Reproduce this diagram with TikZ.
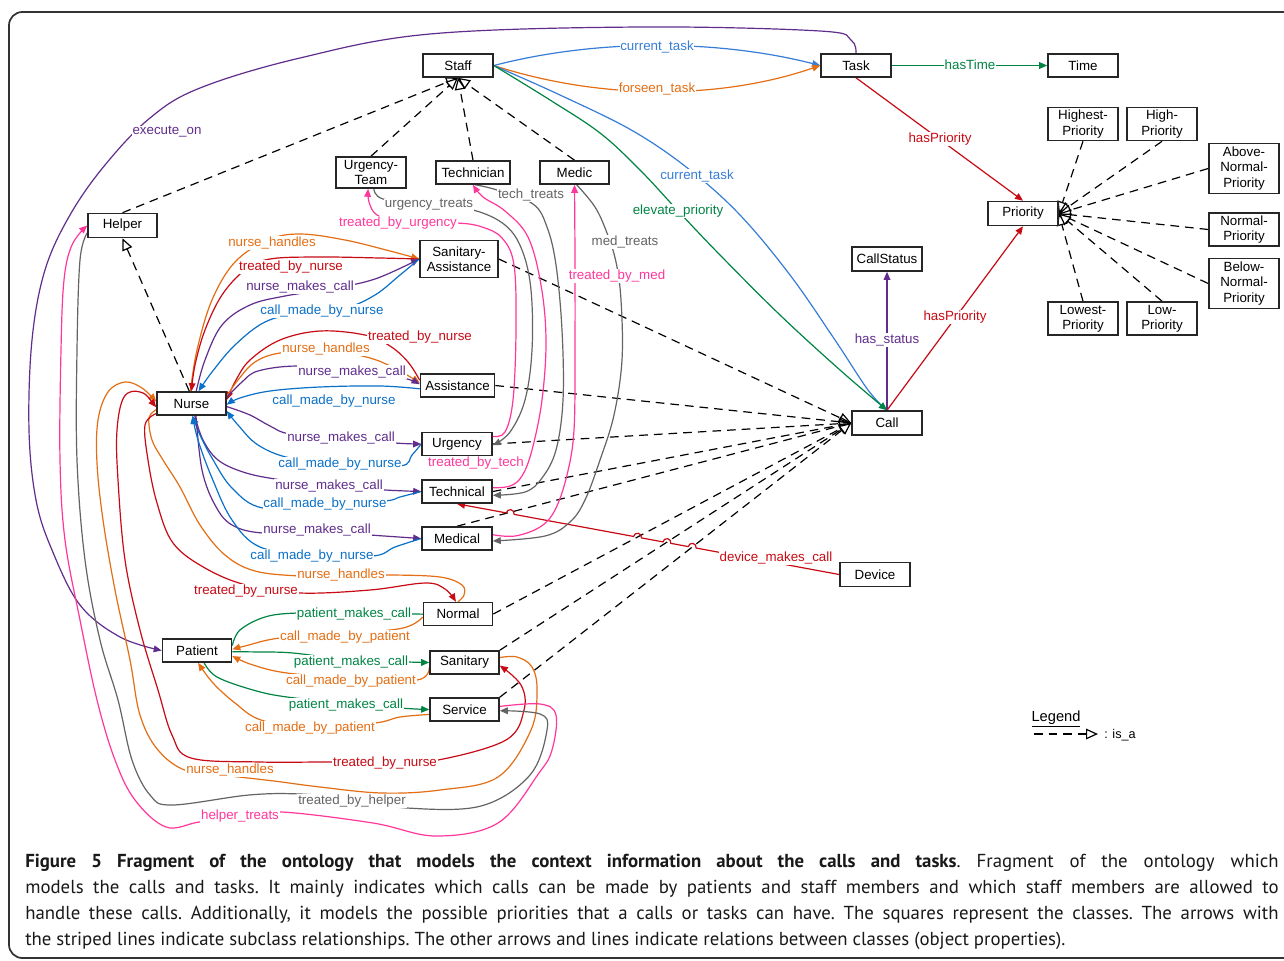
\documentclass[tikz,border=0pt]{standalone}
\usepackage{fontspec}
\setmainfont{Liberation Sans}
\newfontfamily\capfont{PT Sans}
\usetikzlibrary{arrows.meta,calc}
\pgfdeclarelayer{edgelayer}
\pgfsetlayers{edgelayer,main}
\definecolor{cpurple}{RGB}{96,45,140}
\definecolor{cblue}{RGB}{10,112,200}
\definecolor{ctask}{RGB}{55,125,215}
\definecolor{corange}{RGB}{228,110,20}
\definecolor{cred}{RGB}{200,10,20}
\definecolor{cgreen}{RGB}{0,132,68}
\definecolor{cpink}{RGB}{255,55,155}
\definecolor{cgray}{RGB}{100,100,100}
\tikzset{
  cls/.style={draw=black!85, line width=1.2pt, fill=white, inner sep=1pt,
    minimum width=52.5pt, minimum height=17.25pt, align=center,
    font=\fontsize{10}{11.5}\selectfont},
  lbl/.style={fill=white, inner sep=0.6pt, font=\fontsize{10}{12}\selectfont},
  tipf/.tip={Triangle[length=6pt,width=5pt]},
  rel/.style={line width=0.9pt, -tipf},
  relboth/.style={line width=0.9pt, tipf-tipf},
  plain/.style={line width=0.9pt},
  isa/.style={line width=0.9pt, dash pattern=on 6.5pt off 4.5pt,
    -{Triangle[length=9pt,width=8pt,fill=white]}},
  smoothy/.style={smooth, tension=0.6},
}
\begin{document}
\begin{tikzpicture}[x=0.75pt,y=0.75pt]
\useasboundingbox (0,0) rectangle (1284,-960);

% ---------- classes ----------
\node[cls] (staff) at (458,-65.5) {Staff};
\node[cls] (task) at (856,-65.5) {Task};
\node[cls] (time) at (1083,-65.5) {Time};
\node[cls, minimum height=23.25pt] (uteam) at (371,-172.5) {Urgency-\\Team};
\node[cls, minimum width=55.5pt] (technician) at (473,-172.5) {Technician};
\node[cls, minimum width=51.75pt] (medic) at (574.5,-172.5) {Medic};
\node[cls, minimum width=51.75pt, minimum height=18pt] (helper) at (122.5,-225.5) {Helper};
\node[cls, minimum width=58.5pt, minimum height=27.75pt] (sanassist) at (459,-259) {Sanitary-\\Assistance};
\node[cls, minimum width=51.75pt] (nurse) at (191.5,-403.5) {Nurse};
\node[cls, minimum width=55.5pt] (assist) at (457.5,-385.5) {Assistance};
\node[cls] (urgency) at (457,-444) {Urgency};
\node[cls] (technical) at (457,-491.5) {Technical};
\node[cls] (medical) at (457,-538.5) {Medical};
\node[cls, minimum width=51.75pt] (normal) at (458,-614) {Normal};
\node[cls, minimum width=51.75pt] (sanitary) at (464.5,-662.5) {Sanitary};
\node[cls, minimum width=51.75pt] (service) at (464.5,-709.5) {Service};
\node[cls, minimum width=51.75pt] (patient) at (197,-650.5) {Patient};
\node[cls, minimum height=18pt] (device) at (875,-574.5) {Device};
\node[cls, minimum height=18pt] (call) at (887,-423) {Call};
\node[cls, minimum height=18pt] (callstatus) at (887,-259) {CallStatus};
\node[cls, minimum height=18pt] (priority) at (1023,-213.5) {Priority};
\node[cls, minimum height=24.75pt] (highest) at (1083,-124) {Highest-\\Priority};
\node[cls, minimum height=24.75pt] (high) at (1162,-124) {High-\\Priority};
\node[cls, minimum height=37.5pt] (above) at (1244,-168.5) {Above-\\Normal-\\Priority};
\node[cls, minimum height=24.75pt] (normalp) at (1244,-229.5) {Normal-\\Priority};
\node[cls, minimum height=37.5pt] (below) at (1244,-283.5) {Below-\\Normal-\\Priority};
\node[cls, minimum height=24.75pt] (lowest) at (1083,-318.5) {Lowest-\\Priority};
\node[cls, minimum height=24.75pt] (low) at (1162,-318.5) {Low-\\Priority};

\begin{pgfonlayer}{edgelayer}
% page and frame
\fill[white] (0,0) rectangle (1284,-960);
\draw[line width=1.3pt, black!80, rounded corners=10pt] (9,-12) rectangle (1320,-958);

% ---------- subclass links ----------
\foreach \s in {helper.north, uteam.north, technician.north, medic.north}
  \draw[isa] (\s) -- (staff.south);
\draw[isa] (nurse.100) -- (helper.south);
\foreach \s in {highest.south, high.south, above.west, normalp.west, below.west, lowest.north, low.north}
  \draw[isa] (\s) -- (priority.east);
\foreach \s in {sanassist.east, assist.east, urgency.east, technical.east, medical.north, normal.east, sanitary.north east, service.north east}
  \draw[isa] (\s) -- (call.west);

% ---------- staff, task, call, priority ----------
\draw[rel, ctask] (staff.east) .. controls (600,-38) and (720,-40) .. (task.west);
\draw[rel, corange] (staff.east) .. controls (600,-100) and (720,-100) .. (task.west);
\draw[rel, ctask] plot[smoothy] coordinates {(staff.east) (560,-95) (633,-131) (690,-170) (740,-215) (790,-275) (835,-340) (868,-390) (call.north)};
\draw[rel, cgreen] plot[smoothy] coordinates {(staff.east) (550,-100) (600,-133) (640,-170) (680,-213) (720,-255) (780,-315) (840,-370) (call.north)};
\draw[rel, cpurple] (call.north) -- (callstatus.south);
\draw[rel, cred] (call.north) -- (priority.south);
\draw[rel, cred] (task.south) -- (priority.north);
\draw[rel, cgreen] (task.east) -- (time.west);
\draw[rel, cpurple] plot[smoothy] coordinates {(task.north) (851,-40) (820,-31) (640,-27) (430,-34) (300,-58) (200,-88) (150,-118) (105,-165) (70,-215) (45,-270) (32,-340) (29,-430) (36,-500) (52,-550) (80,-605) (120,-637) (patient.west)};

% device link with bridges over the subclass lines
\draw[rel, cred] (device.west)
  -- ($(device.west)!0.3743!(technical.south)$) arc[start angle=-10.6, end angle=169.4, radius=4]
  -- ($(device.west)!0.4406!(technical.south)$) arc[start angle=-10.6, end angle=169.4, radius=4]
  -- ($(device.west)!0.5174!(technical.south)$) arc[start angle=-10.6, end angle=169.4, radius=4]
  -- ($(device.west)!0.8505!(technical.south)$) arc[start angle=-10.6, end angle=169.4, radius=4]
  -- (technical.south);

% ---------- nurse and sanitary assistance ----------
\draw[rel, corange] plot[smoothy] coordinates {(nurse.95) (197,-350) (212,-300) (235,-262) (268,-240) (300,-234) (345,-240) (390,-251) (sanassist.west)};
\draw[rel, cred] plot[smoothy] coordinates {(sanassist.west) (380,-258) (320,-257) (270,-259) (245,-270) (222,-295) (205,-330) (195,-365) (nurse.north)};
\draw[rel, cpurple] plot[smoothy] coordinates {(nurse.69) (205,-360) (222,-325) (250,-305) (285,-296) (330,-289) (375,-279) (sanassist.west)};
\draw[rel, cblue] plot[smoothy] coordinates {(sanassist.west) (400,-275) (375,-295) (345,-308) (300,-313) (265,-322) (235,-345) (212,-372) (nurse.60)};

% ---------- nurse and assistance ----------
\draw[rel, cred] plot[smoothy] coordinates {(assist.172) (408,-362) (390,-346) (365,-335) (320,-331) (280,-340) (250,-360) (236,-380) (nurse.6)};
\draw[rel, corange] plot[smoothy] coordinates {(nurse.12) (238,-380) (255,-362) (280,-353) (326,-350) (370,-358) (398,-370) (assist.176)};
\draw[rel, cpurple] plot[smoothy] coordinates {(nurse.10) (242,-382) (258,-371) (297,-366) (352,-370) (400,-377) (assist.178)};
\draw[rel, cblue] plot[smoothy] coordinates {(assist.185) (380,-386) (320,-387) (270,-391) (240,-398) (nurse.-2)};

% ---------- nurse and urgency, technical, medical ----------
\draw[rel, cpurple] plot[smoothy] coordinates {(nurse.-5) (250,-415) (270,-426) (290,-434) (340,-438) (395,-443) (urgency.west)};
\draw[rel, cblue] plot[smoothy] coordinates {(urgency.west) (412,-455) (400,-466) (340,-463) (290,-458) (258,-445) (238,-425) (nurse.-12)};
\draw[rel, cpurple] plot[smoothy] coordinates {(nurse.-75) (203,-440) (218,-460) (243,-472) (275,-479) (328,-486) (385,-490) (technical.west)};
\draw[rel, cblue] plot[smoothy] coordinates {(technical.west) (400,-497) (385,-501) (325,-505) (263,-508) (232,-488) (212,-458) (200,-435) (nurse.-85)};
\draw[rel, cpurple] plot[smoothy] coordinates {(nurse.-70) (202,-470) (215,-505) (232,-525) (263,-533) (317,-531) (370,-535) (medical.west)};
\draw[rel, cblue] plot[smoothy] coordinates {(medical.west) (395,-547) (373,-556) (312,-555) (260,-547) (232,-520) (212,-478) (198,-440) (nurse.-85)};

% ---------- nurse and normal ----------
\draw[plain, corange] plot[smoothy] coordinates {(nurse.190) (149,-418) (152,-440) (163,-460) (180,-487) (200,-525) (225,-555) (255,-571) (300,-576) (340,-576) (390,-575) (440,-577) (462,-585) (464,-595) (normal.north)};
\draw[rel, cred] plot[smoothy] coordinates {(nurse.196) (145,-425) (148,-460) (157,-503) (173,-543) (205,-568) (246,-585) (300,-593) (370,-590) (425,-583) (445,-589) (normal.100)};

% ---------- long loops to sanitary and service ----------
\draw[rel, corange] plot[smoothy] coordinates {(sanitary.8) (517,-657) (532,-667) (537,-690) (531,-730) (498,-777) (440,-790) (382,-793) (320,-787) (274,-781) (230,-776) (187,-771) (158,-750) (140,-715) (130,-660) (115,-590) (103,-520) (97,-463) (98,-420) (108,-392) (125,-382) (142,-388) (nurse.177)};
\draw[relboth, cred] plot[smoothy] coordinates {(nurse.186) (140,-392) (124,-397) (117,-430) (118,-480) (125,-560) (140,-630) (158,-690) (172,-735) (191,-758) (260,-762) (332,-762) (385,-763) (438,-760) (506,-740) (524,-710) (521,-685) (sanitary.-5)};
\draw[rel, cgray] plot[smoothy] coordinates {(helper.192) (80,-260) (77,-350) (77,-460) (85,-560) (100,-640) (118,-700) (132,-760) (150,-795) (172,-805) (249,-795) (300,-794) (352,-799) (407,-808) (481,-806) (530,-775) (547,-730) (540,-714) (service.-2)};
\draw[rel, cpink] plot[smoothy] coordinates {(service.5) (540,-704) (556,-715) (552,-750) (539,-773) (498,-823) (436,-836) (373,-823) (282,-812) (240,-816) (199,-822) (166,-827) (135,-800) (115,-760) (97,-700) (80,-620) (65,-540) (60,-460) (61,-350) (64,-280) (72,-245) (helper.180)};

% ---------- patient ----------
\draw[rel, cgreen] plot[smoothy] coordinates {(patient.8) (240,-630) (265,-617) (297,-613) (354,-613) (413,-614) (normal.west)};
\draw[rel, corange] plot[smoothy] coordinates {(normal.-175) (403,-628) (345,-634) (280,-638) (245,-646) (patient.2)};
\draw[rel, cgreen] plot[smoothy] coordinates {(patient.-2) (260,-652) (293,-653) (351,-660) (408,-662) (sanitary.west)};
\draw[rel, corange] plot[smoothy] coordinates {(sanitary.-172) (417,-680) (351,-678) (287,-673) (253,-665) (patient.-9)};
\draw[rel, cgreen] plot[smoothy] coordinates {(patient.-60) (217,-677) (253,-690) (287,-697) (347,-703) (400,-708) (service.west)};
\draw[rel, corange] plot[smoothy] coordinates {(service.-172) (400,-717) (375,-723) (310,-728) (261,-720) (235,-703) (213,-683) (patient.-85)};

% ---------- staff members treating calls ----------
\draw[rel, cgray] plot[smoothy] coordinates {(uteam.-80) (383,-199) (429,-205) (473,-210) (505,-225) (522,-250) (531,-290) (532,-350) (525,-400) (510,-432) (urgency.-2)};
\draw[rel, cpink] plot[smoothy] coordinates {(urgency.12) (505,-432) (513,-400) (516,-330) (514,-265) (502,-238) (482,-227) (457,-223) (400,-222) (377,-215) (369,-202) (uteam.-100)};
\draw[rel, cgray] plot[smoothy] coordinates {(technician.-80) (497,-190) (533,-204) (547,-227) (556,-265) (562,-330) (563,-400) (556,-450) (542,-478) (525,-492) (technical.-6)};
\draw[rel, cpink] plot[smoothy] coordinates {(technical.6) (510,-486) (522,-476) (532,-450) (542,-400) (546,-340) (541,-285) (528,-237) (505,-211) (483,-197) (technician.south)};
\draw[rel, cgray] plot[smoothy] coordinates {(medic.-80) (595,-207) (607,-233) (616,-262) (621,-300) (622,-360) (614,-415) (600,-460) (585,-500) (570,-522) (545,-536) (medical.-4)};
\draw[rel, cpink] plot[smoothy] coordinates {(medical.6) (515,-536) (540,-527) (555,-510) (567,-475) (574,-430) (575,-350) (575,-260) (medic.south)};

% legend line
\coordinate (lga) at (1034,-734);
\coordinate (lgb) at (1098,-734);
\draw[isa] (lga) -- (lgb);
\end{pgfonlayer}

% ---------- relation labels ----------
\node[lbl, text=cpurple] (l1) at (167,-132) {execute\_on};
\node[lbl, text=ctask] (l2) at (657,-47) {current\_task};
\node[lbl, text=corange] (l3) at (657,-89) {forseen\_task};
\node[lbl, text=ctask] (l4) at (697,-176) {current\_task};
\node[lbl, text=cgreen] (l5) at (678,-211) {elevate\_priority};
\node[lbl, text=cgreen] (l6) at (970,-65) {hasTime};
\node[lbl, text=cred] (l7) at (940,-139) {hasPriority};
\node[lbl, text=cred] (l8) at (955,-317) {hasPriority};
\node[lbl, text=cpurple] (l9) at (887,-340) {has\_status};
\node[lbl, text=cred] (l10) at (776,-558) {device\_makes\_call};

\node[lbl, text=cgray] (l11) at (429,-205) {urgency\_treats};
\node[lbl, text=cpink] (l12) at (398,-223) {treated\_by\_urgency};
\node[lbl, text=cgray] (l13) at (531,-195) {tech\_treats};
\node[lbl, text=cgray] (l14) at (625,-242) {med\_treats};
\node[lbl, text=cpink] (l15) at (617,-276) {treated\_by\_med};
\node[lbl, text=cpink] (l16) at (476,-463) {treated\_by\_tech};

\node[lbl, text=corange] (l17) at (272,-243) {nurse\_handles};
\node[lbl, text=cred] (l18) at (291,-267) {treated\_by\_nurse};
\node[lbl, text=cpurple] (l19) at (300,-287) {nurse\_makes\_call};
\node[lbl, text=cblue] (l20) at (322,-311) {call\_made\_by\_nurse};
\node[lbl, text=cred] (l21) at (420,-337) {treated\_by\_nurse};
\node[lbl, text=corange] (l22) at (326,-349) {nurse\_handles};
\node[lbl, text=cpurple] (l23) at (352,-372) {nurse\_makes\_call};
\node[lbl, text=cblue] (l24) at (334,-401) {call\_made\_by\_nurse};
\node[lbl, text=cpurple] (l25) at (341,-438) {nurse\_makes\_call};
\node[lbl, text=cblue] (l26) at (340,-464) {call\_made\_by\_nurse};
\node[lbl, text=cpurple] (l27) at (329,-486) {nurse\_makes\_call};
\node[lbl, text=cblue] (l28) at (325,-504) {call\_made\_by\_nurse};
\node[lbl, text=cpurple] (l29) at (317,-530) {nurse\_makes\_call};
\node[lbl, text=cblue] (l30) at (312,-556) {call\_made\_by\_nurse};
\node[lbl, text=corange] (l31) at (341,-575) {nurse\_handles};
\node[lbl, text=cred] (l32) at (246,-591) {treated\_by\_nurse};

\node[lbl, text=cgreen] (l33) at (354,-614) {patient\_makes\_call};
\node[lbl, text=corange] (l34) at (345,-637) {call\_made\_by\_patient};
\node[lbl, text=cgreen] (l35) at (351,-662) {patient\_makes\_call};
\node[lbl, text=corange] (l36) at (351,-681) {call\_made\_by\_patient};
\node[lbl, text=cgreen] (l37) at (346,-705) {patient\_makes\_call};
\node[lbl, text=corange] (l38) at (310,-728) {call\_made\_by\_patient};
\node[lbl, text=cred] (l39) at (385,-763) {treated\_by\_nurse};
\node[lbl, text=corange] (l40) at (230,-770) {nurse\_handles};
\node[lbl, text=cgray] (l41) at (352,-801) {treated\_by\_helper};
\node[lbl, text=cpink] (l42) at (240,-816) {helper\_treats};

% ---------- legend ----------
\node[inner sep=0, anchor=base, font=\fontsize{11}{13}\selectfont] (legend) at (1056,-721) {\underline{Legend}};
\node[inner sep=0, anchor=west, font=\fontsize{9.5}{11}\selectfont] (isatext) at (1104,-735) {: is\_a};

% ---------- caption ----------
\node[anchor=north west, inner sep=0, text width=940pt, align=justify,
  font=\capfont\fontsize{14.1}{19.5}\selectfont\frenchspacing, text=black!90] (caption) at (25,-854)
{\textbf{Figure 5 Fragment of the ontology that models the context information about the calls and tasks}. Fragment of the ontology which\linebreak
models the calls and tasks. It mainly indicates which calls can be made by patients and staff members and which staff members are allowed to\linebreak
handle these calls. Additionally, it models the possible priorities that a calls or tasks can have. The squares represent the classes. The arrows with\linebreak
the striped lines indicate subclass relationships. The other arrows and lines indicate relations between classes (object properties).};
\end{tikzpicture}
\end{document}
